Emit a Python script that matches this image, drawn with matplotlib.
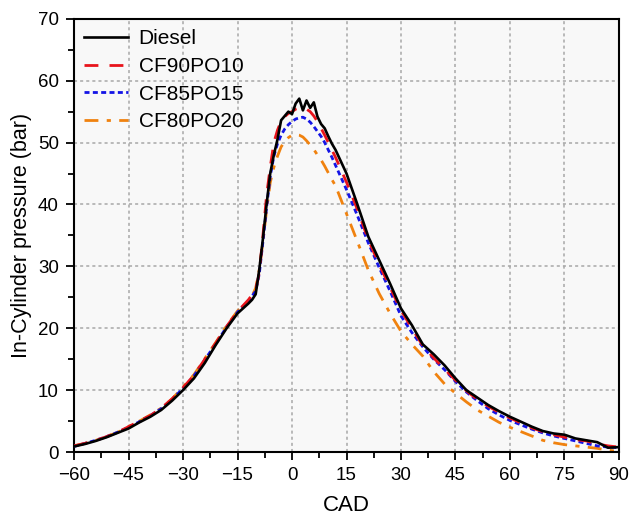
import matplotlib
matplotlib.use('Agg')
import matplotlib.pyplot as plt
from matplotlib.ticker import MultipleLocator

plt.rcParams['font.family'] = ['Liberation Sans', 'DejaVu Sans']

cad = [-60, -57, -54, -51, -48, -45, -42, -39, -36, -33, -30, -27, -24, -21, -18, -15, -12,
       -11, -10, -9, -8, -7, -6, -5, -4, -3, -2, -1, 0, 1, 2, 3, 4, 5, 6, 7, 8, 9, 10, 11, 12,
       15, 18, 21, 24, 27, 30, 33, 36, 39, 42, 45, 48, 51, 54, 57, 60, 63, 66, 69, 72, 75, 78,
       81, 84, 87, 90]

diesel = [0.9, 1.3, 1.8, 2.4, 3.1, 3.8, 4.8, 5.7, 6.8, 8.3, 10.0, 11.9, 14.4, 17.3, 20.0, 22.4, 24.0,
          24.6, 25.5, 29.5, 34.5, 40.0, 45.0, 48.0, 50.5, 53.6, 54.3, 55.0, 54.6, 56.3, 57.1, 55.2,
          56.8, 55.6, 56.5, 54.2, 53.0, 52.3, 51.0, 49.8, 48.8,
          45.0, 40.0, 34.8, 31.0, 27.2, 23.2, 20.5, 17.4, 15.8, 14.0, 11.9, 10.0, 8.8, 7.6, 6.6,
          5.7, 4.9, 4.1, 3.4, 3.0, 2.8, 2.2, 1.9, 1.6, 0.7, 0.8]

cf90po10 = [1.0, 1.4, 1.9, 2.5, 3.2, 4.1, 5.0, 5.9, 7.1, 8.6, 10.4, 12.4, 15.0, 17.6, 20.3, 22.7, 24.6,
            25.4, 26.2, 29.0, 35.0, 41.5, 46.0, 50.0, 52.0, 53.5, 54.2, 54.7, 55.0, 55.4, 55.6, 55.6,
            55.4, 55.0, 54.3, 53.4, 52.3, 51.2, 50.0, 48.8, 47.6,
            43.6, 39.2, 34.3, 30.3, 26.6, 22.9, 20.0, 17.2, 15.2, 13.4, 11.6, 9.9, 8.5, 7.4, 6.4,
            5.5, 4.7, 3.9, 3.3, 2.8, 2.4, 2.0, 1.8, 1.3, 1.0, 0.8]

cf85po15 = [0.9, 1.4, 1.9, 2.5, 3.2, 4.0, 4.9, 5.9, 7.0, 8.5, 10.3, 12.3, 14.9, 17.5, 20.2, 22.6, 24.4,
            25.2, 26.0, 28.8, 34.0, 39.5, 44.5, 47.8, 49.8, 51.2, 52.2, 52.9, 53.4, 53.8, 54.0, 54.1,
            53.8, 53.3, 52.6, 51.8, 51.0, 50.0, 48.8, 47.6, 46.3,
            42.4, 38.2, 33.8, 29.8, 26.0, 22.0, 19.3, 17.0, 15.0, 13.3, 11.4, 9.7, 8.3, 7.0, 6.0,
            5.1, 4.4, 3.7, 3.1, 2.6, 2.2, 1.8, 1.4, 1.0, 0.8, 0.7]

cf80po20 = [1.0, 1.4, 1.9, 2.5, 3.2, 4.1, 5.0, 6.0, 7.1, 8.6, 10.5, 12.5, 15.1, 17.7, 20.4, 22.8, 24.3,
            25.2, 26.5, 29.5, 34.0, 39.0, 43.5, 46.0, 47.8, 49.3, 50.2, 50.8, 51.2, 51.3, 51.2, 50.9,
            50.3, 49.6, 48.9, 48.0, 47.2, 46.2, 45.1, 44.0, 43.0,
            38.5, 34.0, 29.4, 25.6, 22.4, 19.5, 17.4, 15.5, 13.0, 11.0, 9.5, 8.1, 6.8, 5.8, 4.8,
            4.0, 3.3, 2.6, 1.9, 1.5, 1.2, 1.0, 0.8, 0.6, 0.3, 0.1]

fig = plt.figure(figsize=(6.3, 5.22), dpi=100)
ax = fig.add_axes([0.1175, 0.134, 0.865, 0.83])
ax.set_facecolor('#f8f8f8')

ax.plot(cad, diesel, color='black', lw=1.9, label='Diesel', zorder=5)
ax.plot(cad, cf90po10, color='#e8141c', lw=2.0, ls=(0, (5, 4)), label='CF90PO10', zorder=4)
ax.plot(cad, cf85po15, color='#1414e6', lw=2.0, ls=(0, (1.8, 1.2)), label='CF85PO15', zorder=3)
ax.plot(cad, cf80po20, color='#f0820f', lw=2.0, ls=(0, (5, 3, 1.5, 3)), label='CF80PO20', zorder=2)

ax.set_xlim(-60, 90)
ax.set_ylim(0, 70)
ax.xaxis.set_major_locator(MultipleLocator(15))
ax.xaxis.set_minor_locator(MultipleLocator(7.5))
ax.yaxis.set_major_locator(MultipleLocator(10))
ax.yaxis.set_minor_locator(MultipleLocator(5))
ax.tick_params(which='major', direction='out', length=6, width=1.3, labelsize=13.5, pad=5)
ax.tick_params(which='minor', direction='out', length=4, width=1.3)
for s in ax.spines.values():
    s.set_linewidth(1.5)
ax.grid(True, which='major', color='#a8a8a8', ls=(0, (2, 2)), lw=1.1)
ax.set_axisbelow(True)

ax.set_xlabel('CAD', fontsize=16, labelpad=8)
ax.set_ylabel('In-Cylinder pressure (bar)', fontsize=15.5, labelpad=4)

ax.legend(loc='upper left', frameon=False, fontsize=15, handlelength=2.1,
          labelspacing=0.42, borderaxespad=0.1, handletextpad=0.5)

fig.savefig('out.png', dpi=100)
